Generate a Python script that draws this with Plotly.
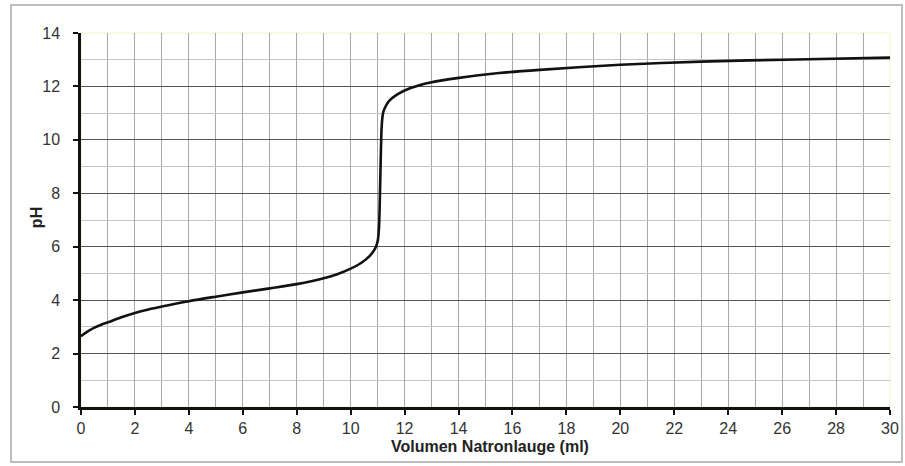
import plotly.graph_objects as go

volume_ml = [0, 0.25, 0.5, 0.75, 1, 1.5, 2, 2.5, 3, 4, 5, 6, 7, 8, 9, 9.5, 10, 10.4,
             10.7, 10.9, 11.0, 11.05, 11.1, 11.15, 11.2, 11.27, 11.42, 11.73, 12.22,
             12.96, 13.95, 15.5, 17, 20, 23, 26.5, 30]
ph_values = [2.65, 2.83, 2.97, 3.08, 3.17, 3.36, 3.52, 3.65, 3.76, 3.96, 4.13, 4.29,
             4.44, 4.6, 4.82, 4.97, 5.18, 5.4, 5.65, 5.92, 6.2, 6.7, 8.6, 10.5, 11.0,
             11.2, 11.45, 11.7, 11.94, 12.15, 12.31, 12.5, 12.62, 12.81, 12.93, 13.01,
             13.08]
x_ticks = list(range(0, 31, 2))
y_ticks = list(range(0, 15, 2))

fig = go.Figure()
fig.add_trace(go.Scatter(x=volume_ml, y=ph_values, mode="lines",
                         line=dict(color="#111111", width=2.6, shape="spline", smoothing=0.8),
                         hoverinfo="skip", showlegend=False))

axis_font = dict(family="Liberation Sans, Arial, sans-serif", size=16, color="#333333")
title_font = dict(family="Liberation Sans, Arial, sans-serif", size=16, color="#222")
fig.update_layout(
    width=905, height=466,
    margin=dict(l=81, r=15, t=33, b=59),
    paper_bgcolor="white", plot_bgcolor="white",
    xaxis=dict(range=[0, 30], tickvals=x_ticks, ticktext=[str(v) for v in x_ticks],
               automargin=False,
               ticks="outside", ticklen=5, tickwidth=2, tickcolor="#111",
               ticklabelstandoff=0,
               showline=True, linecolor="#111", linewidth=2.5,
               showgrid=True, gridcolor="#a8a8a8", gridwidth=1,
               minor=dict(dtick=1, showgrid=True, gridcolor="#a8a8a8", gridwidth=1),
               zeroline=False, tickfont=axis_font),
    yaxis=dict(range=[0, 14], tickvals=y_ticks, ticktext=[str(v) for v in y_ticks],
               automargin=False,
               ticks="outside", ticklen=5, tickwidth=2, tickcolor="#111",
               ticklabelstandoff=10,
               showline=True, linecolor="#111", linewidth=2.5,
               showgrid=True, gridcolor="#555555", gridwidth=1.3,
               minor=dict(dtick=1, showgrid=True, gridcolor="#c4c4c4", gridwidth=1),
               zeroline=False, tickfont=axis_font),
    annotations=[
        dict(text="<b>Volumen Natronlauge (ml)</b>", xref="paper", yref="paper",
             x=0.505, y=-(446 - 407) / 374, xanchor="center", yanchor="middle",
             showarrow=False, font=title_font),
        dict(text="<b>pH</b>", xref="paper", yref="paper", textangle=-90,
             x=-(81 - 36) / 809, y=0.505, xanchor="center", yanchor="middle",
             showarrow=False, font=title_font),
    ],
    shapes=[
        dict(type="rect", xref="paper", yref="paper", x0=0, x1=1, y0=0, y1=1,
             line=dict(color="#f2f2c8", width=1), layer="below"),
        dict(type="rect", xref="paper", yref="paper",
             x0=-70/809, x1=(902-81)/809, y0=-(462-407)/374, y1=(407-5)/374,
             line=dict(color="#bdbdbd", width=2)),
    ],
)

fig.write_html("out.html")
